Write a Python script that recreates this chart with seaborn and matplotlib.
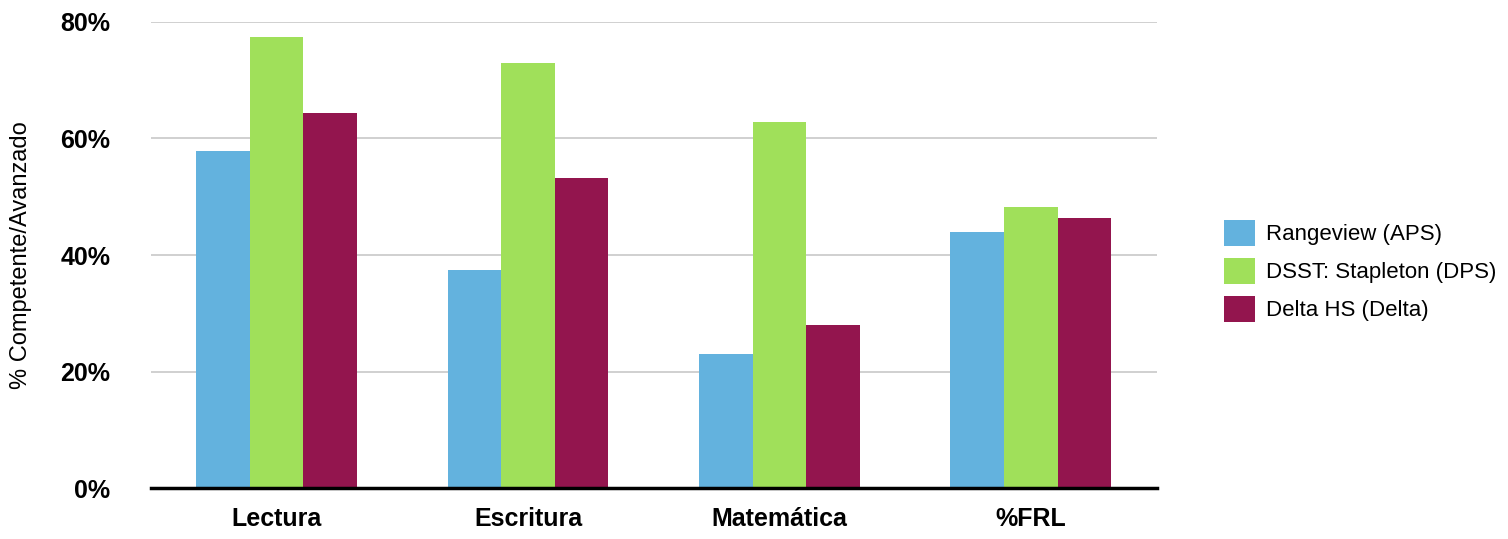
import matplotlib
matplotlib.use("Agg")
import matplotlib.pyplot as plt
import seaborn as sns
import pandas as pd
from matplotlib.ticker import FuncFormatter

categories = ["Lectura", "Escritura", "Matemática", "%FRL"]
schools = ["Rangeview (APS)", "DSST: Stapleton (DPS)", "Delta HS (Delta)"]
rangeview = [57.9, 37.5, 23.0, 44.0]
dsst = [77.5, 73.0, 62.9, 48.2]
delta = [64.3, 53.2, 28.0, 46.3]
colors = ["#63B2DE", "#A0E05A", "#93154E"]

rows = []
for school, vals in zip(schools, [rangeview, dsst, delta]):
    for cat, v in zip(categories, vals):
        rows.append({"cat": cat, "school": school, "value": v})
df = pd.DataFrame(rows)

sns.set_style("white")
plt.rcParams['font.family'] = ['Liberation Sans', 'DejaVu Sans']

fig = plt.figure(figsize=(15.08, 5.39), dpi=100)
ax = fig.add_axes([0.1, 0.0946, 0.667, 0.8646])

sns.barplot(data=df, x="cat", y="value", hue="school", palette=colors,
            width=0.64, saturation=1, ax=ax, linewidth=0, gap=0)

ax.set_ylim(0, 80)
ax.set_xlim(-0.5, 3.5)
ax.set_yticks([0, 20, 40, 60, 80])
ax.yaxis.set_major_formatter(FuncFormatter(lambda v, p: f"{int(v)}%"))
for y in [20, 40, 60, 80]:
    ax.axhline(y, color="#C8C8C8", lw=1.2, zorder=0)
ax.set_axisbelow(True)

for s in ["top", "right", "left"]:
    ax.spines[s].set_visible(False)
ax.spines["bottom"].set_color("black")
ax.spines["bottom"].set_linewidth(2.5)

ax.tick_params(axis="both", length=0)
ax.tick_params(axis="y", pad=29)
ax.tick_params(axis="x", pad=14)
for lbl in ax.get_xticklabels() + ax.get_yticklabels():
    lbl.set_fontsize(18)
    lbl.set_fontweight("bold")
    lbl.set_color("black")

ax.set_xlabel("")
ax.set_ylabel("% Competente/Avanzado", fontsize=17, color="black")
ax.yaxis.set_label_coords(-0.118, 0.5)

handles, labels = ax.get_legend_handles_labels()
leg = ax.legend(handles, labels, loc="center left", bbox_to_anchor=(1.058, 0.466),
                frameon=False, fontsize=16, handlelength=1.4, handleheight=1.4,
                handletextpad=0.5, labelspacing=0.55, borderaxespad=0)
for t in leg.get_texts():
    t.set_color("black")

fig.savefig("out.png", dpi=100)
